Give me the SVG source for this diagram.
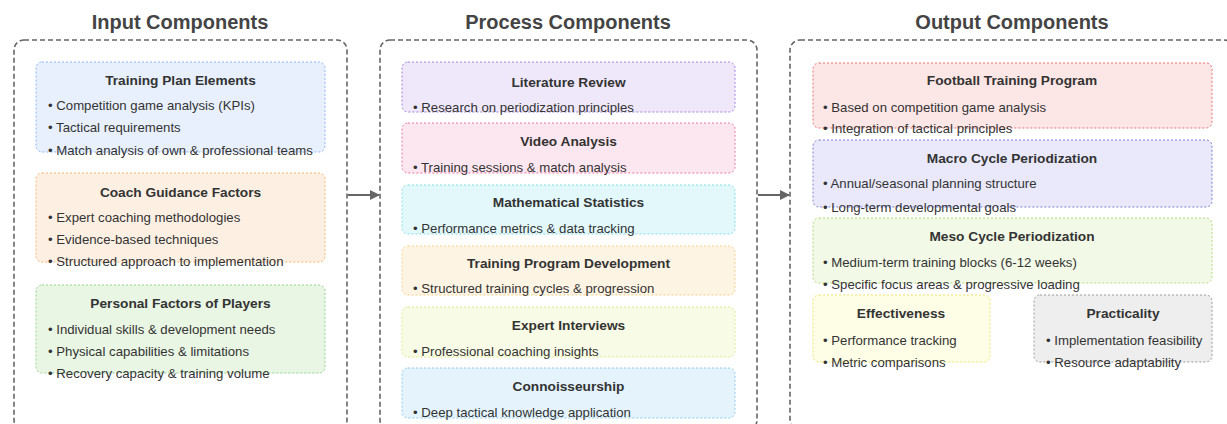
<svg xmlns="http://www.w3.org/2000/svg" width="1227" height="424" viewBox="0 0 1227 424">
  <defs>
    <style>
      .heading { font-family: "Liberation Sans", Arial, sans-serif; font-size: 20px; font-weight: bold; fill: #444; text-anchor: middle; }
      .panel { fill: #ffffff; stroke: #666; stroke-width: 1.6; stroke-dasharray: 5 3; }
      .card { stroke-width: 1; stroke-dasharray: 2 2; }
      .title { font-family: "Liberation Sans", Arial, sans-serif; font-size: 13.7px; font-weight: bold; fill: #333; text-anchor: middle; }
      .item { font-family: "Liberation Sans", Arial, sans-serif; font-size: 13.2px; fill: #333; }
      .flow { stroke: #666; stroke-width: 2; fill: none; }
    </style>
    <marker id="arrowhead" markerWidth="10" markerHeight="10" refX="9" refY="5" orient="auto" markerUnits="userSpaceOnUse">
      <path d="M0,0 L10,5 L0,10 Z" fill="#666"/>
    </marker>
  </defs>

  <rect width="1227" height="424" fill="#ffffff"/>

  <!-- Column panels -->
  <g id="panel-input">
    <text class="heading" x="180" y="29">Input Components</text>
    <rect class="panel" x="14" y="40" width="333" height="390" rx="10"/>
  </g>
  <g id="panel-process">
    <text class="heading" x="568" y="29">Process Components</text>
    <rect class="panel" x="380" y="40" width="377" height="390" rx="10"/>
  </g>
  <g id="panel-output">
    <text class="heading" x="1012" y="29">Output Components</text>
    <rect class="panel" x="790" y="40" width="444" height="390" rx="10"/>
  </g>

  <!-- Connectors between panels -->
  <g id="connectors">
    <line class="flow" x1="348" y1="195" x2="379" y2="195" marker-end="url(#arrowhead)"/>
    <line class="flow" x1="758" y1="195" x2="789" y2="195" marker-end="url(#arrowhead)"/>
  </g>

  <!-- Input cards -->
  <g id="training-plan-elements">
    <rect class="card" x="36" y="62" width="289" height="90" rx="6" fill="#e8f0fd" stroke="#8ab4f8"/>
    <text class="title" x="180.5" y="85">Training Plan Elements</text>
    <text class="item" x="48" y="110">• Competition game analysis (KPIs)</text>
    <text class="item" x="48" y="132">• Tactical requirements</text>
    <text class="item" x="48" y="155">• Match analysis of own &amp; professional teams</text>
  </g>
  <g id="coach-guidance-factors">
    <rect class="card" x="36" y="173" width="289" height="89" rx="6" fill="#fdf0e3" stroke="#f6b26b"/>
    <text class="title" x="180.5" y="197">Coach Guidance Factors</text>
    <text class="item" x="48" y="222">• Expert coaching methodologies</text>
    <text class="item" x="48" y="244">• Evidence-based techniques</text>
    <text class="item" x="48" y="266">• Structured approach to implementation</text>
  </g>
  <g id="personal-factors">
    <rect class="card" x="36" y="285" width="289" height="88" rx="6" fill="#e9f6e4" stroke="#8fd18a"/>
    <text class="title" x="180.5" y="308">Personal Factors of Players</text>
    <text class="item" x="48" y="334">• Individual skills &amp; development needs</text>
    <text class="item" x="48" y="356">• Physical capabilities &amp; limitations</text>
    <text class="item" x="48" y="378">• Recovery capacity &amp; training volume</text>
  </g>

  <!-- Process cards -->
  <g id="literature-review">
    <rect class="card" x="402" y="62" width="333" height="50" rx="6" fill="#efe8fb" stroke="#a37ee0"/>
    <text class="title" x="568.5" y="87">Literature Review</text>
    <text class="item" x="413" y="112">• Research on periodization principles</text>
  </g>
  <g id="video-analysis">
    <rect class="card" x="402" y="123" width="333" height="50" rx="6" fill="#fce6ef" stroke="#ec74a6"/>
    <text class="title" x="568.5" y="146">Video Analysis</text>
    <text class="item" x="413" y="172">• Training sessions &amp; match analysis</text>
  </g>
  <g id="mathematical-statistics">
    <rect class="card" x="402" y="185" width="333" height="49" rx="6" fill="#e2f8fb" stroke="#84dbe8"/>
    <text class="title" x="568.5" y="207">Mathematical Statistics</text>
    <text class="item" x="413" y="233">• Performance metrics &amp; data tracking</text>
  </g>
  <g id="training-program-development">
    <rect class="card" x="402" y="246" width="333" height="49" rx="6" fill="#fef4e3" stroke="#f8d089"/>
    <text class="title" x="568.5" y="268">Training Program Development</text>
    <text class="item" x="413" y="293">• Structured training cycles &amp; progression</text>
  </g>
  <g id="expert-interviews">
    <rect class="card" x="402" y="307" width="333" height="50" rx="6" fill="#f8fbe5" stroke="#dfe98a"/>
    <text class="title" x="568.5" y="330">Expert Interviews</text>
    <text class="item" x="413" y="356">• Professional coaching insights</text>
  </g>
  <g id="connoisseurship">
    <rect class="card" x="402" y="368" width="333" height="50" rx="6" fill="#e4f3fc" stroke="#8ccbf0"/>
    <text class="title" x="568.5" y="391">Connoisseurship</text>
    <text class="item" x="413" y="417">• Deep tactical knowledge application</text>
  </g>

  <!-- Output cards -->
  <g id="football-training-program">
    <rect class="card" x="813" y="63" width="399" height="65" rx="6" fill="#fde6e6" stroke="#e57373"/>
    <text class="title" x="1012" y="85">Football Training Program</text>
    <text class="item" x="823" y="112">• Based on competition game analysis</text>
    <text class="item" x="823" y="133">• Integration of tactical principles</text>
  </g>
  <g id="macro-cycle">
    <rect class="card" x="813" y="140" width="399" height="67" rx="6" fill="#e9e9fb" stroke="#7f7fd6"/>
    <text class="title" x="1012" y="163">Macro Cycle Periodization</text>
    <text class="item" x="823" y="188">• Annual/seasonal planning structure</text>
    <text class="item" x="823" y="212">• Long-term developmental goals</text>
  </g>
  <g id="meso-cycle">
    <rect class="card" x="813" y="218" width="399" height="65" rx="6" fill="#f2f9e6" stroke="#b5d77e"/>
    <text class="title" x="1012" y="241">Meso Cycle Periodization</text>
    <text class="item" x="823" y="267">• Medium-term training blocks (6-12 weeks)</text>
    <text class="item" x="823" y="289">• Specific focus areas &amp; progressive loading</text>
  </g>
  <g id="effectiveness">
    <rect class="card" x="813" y="295" width="177" height="67" rx="6" fill="#fefde6" stroke="#e9e56a"/>
    <text class="title" x="901" y="318">Effectiveness</text>
    <text class="item" x="823" y="345">• Performance tracking</text>
    <text class="item" x="823" y="367">• Metric comparisons</text>
  </g>
  <g id="practicality">
    <rect class="card" x="1034" y="295" width="178" height="67" rx="6" fill="#eeeeee" stroke="#999999"/>
    <text class="title" x="1123" y="318">Practicality</text>
    <text class="item" x="1046" y="345">• Implementation feasibility</text>
    <text class="item" x="1046" y="367">• Resource adaptability</text>
  </g>
</svg>
